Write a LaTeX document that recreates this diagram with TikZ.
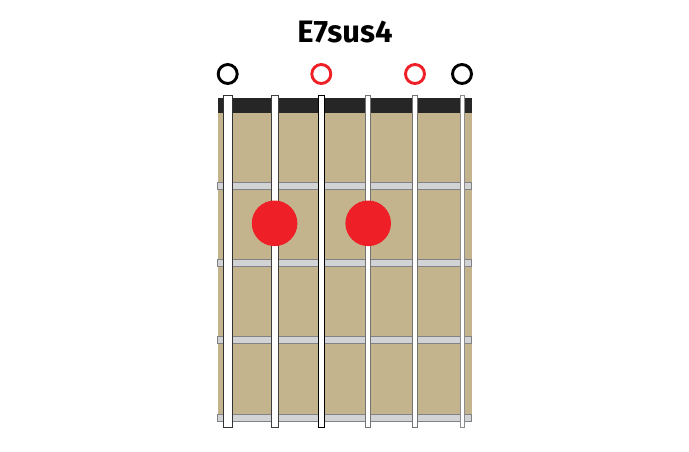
\documentclass[tikz,border=0pt]{standalone}
\usepackage{fontspec}
\setmainfont{Fira Sans}
\definecolor{board}{HTML}{C3B48E}
\definecolor{nutc}{HTML}{262626}
\definecolor{fretc}{HTML}{D1D3D4}
\definecolor{fretline}{HTML}{808285}
\definecolor{redc}{HTML}{EE1F26}
\begin{document}
\begin{tikzpicture}[x=1pt,y=-1pt,
  fretbar/.style={fill=fretc,draw=fretline,line width=0.9pt},
  strg/.style={fill=white,draw=#1},
  dot/.style={circle,fill=redc,inner sep=0pt,minimum size=45.6pt},
  openmark/.style={circle,draw=#1,line width=2.9pt,inner sep=0pt,minimum size=19pt},
  title/.style={font=\fontsize{31}{36}\bfseries\selectfont}]
\useasboundingbox (0,0) rectangle (689,451);
% fretboard
\fill[board] (217.5,112) rectangle (471.8,421);
\fill[nutc] (217.5,97.5) rectangle (471.8,113);
% frets
\foreach \y in {185.8,263,339.7,418} {
  \draw[fretbar] (217.5,\y-3.5) rectangle (471.8,\y+3.5);
}
% strings
\draw[strg=black!80,line width=1pt] (223.5,95) rectangle (232,427.3);
\draw[strg=black!75,line width=1pt] (271.3,95) rectangle (278,427.3);
\draw[strg=black,line width=1pt] (318.5,95) rectangle (324.1,427.3);
\draw[strg=black!55,line width=0.9pt] (365.8,95) rectangle (370.7,427.3);
\draw[strg=black!55,line width=0.9pt] (412.8,95) rectangle (417.3,427.3);
\draw[strg=black!45,line width=0.8pt] (460,95) rectangle (464,427.3);
% finger dots
\node[dot] (d2) at (274.6,223.3) {};
\node[dot] (d4) at (368.2,223.3) {};
% open strings
\node[openmark=black] (o1) at (227.7,74) {};
\node[openmark=redc] (o3) at (321.3,74) {};
\node[openmark=redc] (o5) at (415,74) {};
\node[openmark=black] (o6) at (462,74) {};
% title
\node[title] (t) at (345,32) {E7sus4};
\end{tikzpicture}
\end{document}
